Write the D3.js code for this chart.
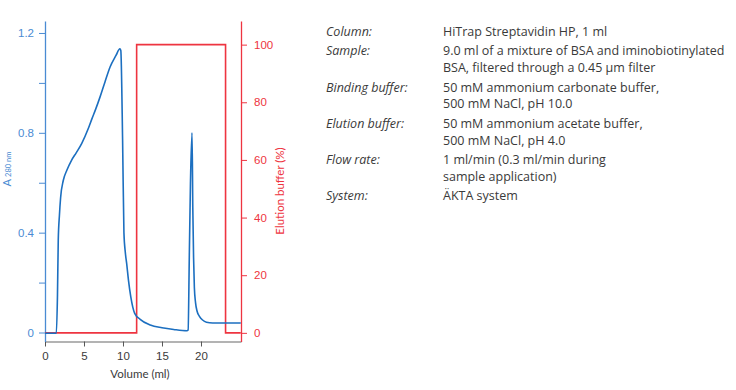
<!DOCTYPE html>
<html>
<head>
<meta charset="utf-8">
<script src="https://cdn.jsdelivr.net/npm/d3@7"></script>
<style>
  html, body { margin: 0; padding: 0; background: #fff; }
  svg { display: block; font-family: Lato, "Open Sans", sans-serif; }
</style>
</head>
<body>
<svg id="chart" width="736" height="390"></svg>
<script>
// ---- Data ----
const a280Volume = [0, 1.45, 1.6, 1.7, 1.85, 2.0, 2.35, 2.8, 3.4, 4.0, 4.7, 5.55, 6.0, 6.5, 7.05, 7.7, 8.33, 9.1, 9.6, 9.72, 9.95, 10.12, 10.3, 10.47, 10.7, 11.0, 11.5, 12.2, 13.5, 15.0, 16.5, 18.2, 18.35, 18.5, 18.65, 18.85, 18.95, 19.05, 19.15, 19.3, 19.5, 19.8, 20.2, 20.7, 21.5, 23.0, 25.1];
const a280Values = [-0.003, -0.003, 0.15, 0.37, 0.47, 0.54, 0.61, 0.65, 0.69, 0.72, 0.757, 0.817, 0.855, 0.895, 0.943, 1.005, 1.063, 1.11, 1.137, 1.13, 0.77, 0.4, 0.32, 0.277, 0.21, 0.143, 0.077, 0.053, 0.03, 0.019, 0.012, 0.007, 0.01, 0.3, 0.6, 0.8, 0.5, 0.3, 0.18, 0.12, 0.085, 0.065, 0.05, 0.041, 0.038, 0.038, 0.038];

const elutionVolume = [0, 11.75, 11.75, 23.15, 23.15, 25.1];
const elutionValues = [0, 0, 100, 100, 0, 0];

const xTicks = [0, 5, 10, 15, 20];
const leftTicks = [0, 0.2, 0.4, 0.6, 0.8, 1.0, 1.2];
const leftTickLabels = ["0", "", "0.4", "", "0.8", "", "1.2"];
const rightTicks = [0, 20, 40, 60, 80, 100];

const infoLabels = ["Column:", "Sample:", "Binding buffer:", "Elution buffer:", "Flow rate:", "System:"];
const infoValues = [
  ["HiTrap Streptavidin HP, 1 ml"],
  ["9.0 ml of a mixture of BSA and iminobiotinylated", "BSA, filtered through a 0.45 µm filter"],
  ["50 mM ammonium carbonate buffer,", "500 mM NaCl, pH 10.0"],
  ["50 mM ammonium acetate buffer,", "500 mM NaCl, pH 4.0"],
  ["1 ml/min (0.3 ml/min during", "sample application)"],
  ["ÄKTA system"]
];

// ---- Styles ----
const BLUE = "#1c6fc0";
const BLUE_AXIS = "#4a8bd3";
const RED = "#ee3440";
const GRAY = "#9a9a9a";
const TEXT = "#3a3a3a";

const svg = d3.select("#chart");

const plot = { left: 45, right: 241, top: 21, bottom: 341.5 };

const x = d3.scaleLinear().domain([0, 25.13]).range([plot.left, plot.right]);
const yL = d3.scaleLinear().domain([-0.036, 1.248]).range([plot.bottom, plot.top]);
const yR = d3.scaleLinear().domain([-3.0, 108.2]).range([plot.bottom, plot.top]);

// X axis
const gx = svg.append("g").attr("transform", `translate(0,${plot.bottom})`)
  .call(d3.axisBottom(x).tickValues(xTicks).tickSize(5).tickSizeOuter(0).tickPadding(5).tickFormat(d3.format("d")));
gx.select(".domain").attr("stroke", GRAY).attr("stroke-width", 1.3);
gx.selectAll(".tick line").attr("stroke", "#555");
gx.selectAll("text").attr("fill", TEXT).attr("font-size", "11.5px");

svg.append("text").attr("x", 140).attr("y", 378)
  .attr("text-anchor", "middle").attr("fill", TEXT).attr("font-size", "11.5px").text("Volume (ml)");

// Left axis
const gl = svg.append("g").attr("transform", `translate(${plot.left},0)`)
  .call(d3.axisLeft(yL).tickValues(leftTicks).tickSize(6).tickSizeOuter(0).tickPadding(5)
    .tickFormat((d, i) => leftTickLabels[i]));
gl.select(".domain").attr("stroke", BLUE_AXIS).attr("stroke-width", 1.3);
gl.selectAll(".tick line").attr("stroke", BLUE_AXIS);
gl.selectAll("text").attr("fill", BLUE_AXIS).attr("font-size", "11.5px");

const lbl = svg.append("text").attr("transform", "translate(11,169) rotate(-90)")
  .attr("text-anchor", "middle").attr("fill", BLUE_AXIS);
lbl.append("tspan").attr("font-size", "11px").text("A");
lbl.append("tspan").attr("font-size", "7.5px").attr("dx", 2).text("280 nm");

// Right axis
const gr = svg.append("g").attr("transform", `translate(${plot.right},0)`)
  .call(d3.axisRight(yR).tickValues(rightTicks).tickSize(6).tickSizeOuter(0).tickPadding(7).tickFormat(d3.format("d")));
gr.select(".domain").attr("stroke", RED).attr("stroke-width", 1.3);
gr.selectAll(".tick line").attr("stroke", RED);
gr.selectAll("text").attr("fill", RED).attr("font-size", "11.5px");

svg.append("text").attr("transform", "translate(284,191) rotate(-90)")
  .attr("text-anchor", "middle").attr("fill", RED).attr("font-size", "11.5px").text("Elution buffer (%)");

// Lines
const elutionData = elutionVolume.map((v, i) => [v, elutionValues[i]]);
svg.append("path").datum(elutionData)
  .attr("fill", "none").attr("stroke", RED).attr("stroke-width", 1.6)
  .attr("d", d3.line().x(d => x(d[0])).y(d => yR(d[1])));

const a280Data = a280Volume.map((v, i) => [v, a280Values[i]]);
svg.append("path").datum(a280Data)
  .attr("fill", "none").attr("stroke", BLUE).attr("stroke-width", 1.6).attr("stroke-linejoin", "round")
  .attr("d", d3.line().curve(d3.curveMonotoneX).x(d => x(d[0])).y(d => yL(d[1])));

// Info panel
const info = svg.append("g").attr("font-size", "12.5px").attr("fill", TEXT)
  .attr("font-family", "'Open Sans', Lato, sans-serif");
let yPos = 36;
const lineStep = 16.8, entryStep = 19.4;
infoLabels.forEach((lab, i) => {
  info.append("text").attr("x", 326).attr("y", yPos).attr("font-style", "italic").text(lab);
  infoValues[i].forEach((line, j) => {
    info.append("text").attr("x", 443).attr("y", yPos + j * lineStep).text(line);
  });
  yPos += (infoValues[i].length - 1) * lineStep + entryStep;
});
</script>
</body>
</html>
